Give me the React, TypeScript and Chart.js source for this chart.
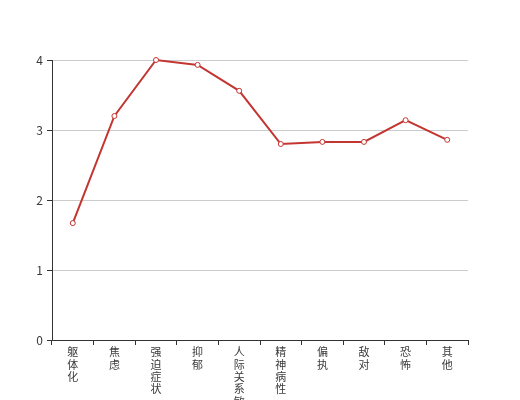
import React, { useEffect, useRef } from "react";
import { Chart, registerables } from "chart.js";

Chart.register(...registerables);

const categories = ["躯体化", "焦虑", "强迫症状", "抑郁", "人际关系敏感", "精神病性", "偏执", "敌对", "恐怖", "其他"];
const scores = [1.67, 3.2, 4.0, 3.93, 3.56, 2.8, 2.83, 2.83, 3.14, 2.86];
const yTicks = [0, 1, 2, 3, 4];

const FONT = '"Noto Sans CJK SC", "DejaVu Sans", sans-serif';

export default function App() {
  const ref = useRef<HTMLCanvasElement>(null);
  useEffect(() => {
    document.body.style.margin = "0";
    const ctx = ref.current!;
    const chart = new Chart(ctx, {
      type: "line",
      data: {
        labels: categories,
        datasets: [
          {
            data: scores,
            borderColor: "#c23531",
            borderWidth: 2,
            backgroundColor: "#ffffff",
            pointBackgroundColor: "#ffffff",
            pointBorderColor: "#c23531",
            pointBorderWidth: 1,
            pointRadius: 2.5,
            tension: 0,
            fill: false,
            clip: false,
          },
        ],
      },
      options: {
        responsive: false,
        animation: false,
        layout: { padding: { top: 60, right: 52, left: 0, bottom: 0 } },
        plugins: { legend: { display: false }, tooltip: { enabled: false } },
        scales: {
          x: {
            type: "category",
            offset: true,
            grid: {
              offset: true,
              drawOnChartArea: false,
              drawTicks: true,
              tickLength: 5,
              tickColor: "#333",
              color: "#333",
            },
            border: { display: true, color: "#333", width: 1 },
            ticks: {
              autoSkip: false,
              maxRotation: 0,
              minRotation: 0,
              padding: 1,
              color: "#3a3a3a",
              font: { family: FONT, size: 11, lineHeight: "12.3px" },
              callback: (_v: any, i: number) => categories[i].split(""),
            },
            afterFit: (s: any) => {
              s.height = 60;
            },
          },
          y: {
            min: yTicks[0],
            max: yTicks[yTicks.length - 1],
            grid: {
              color: "#ccc",
              drawTicks: true,
              tickLength: 5,
              tickColor: "#333",
            },
            border: { display: true, color: "#333", width: 1 },
            ticks: {
              stepSize: 1,
              padding: 4,
              color: "#3a3a3a",
              font: { family: FONT, size: 12 },
            },
            afterFit: (s: any) => {
              s.width = 52;
            },
          },
        },
      },
    });
    return () => chart.destroy();
  }, []);
  return <canvas ref={ref} width={520} height={400} style={{ display: "block" }} />;
}
